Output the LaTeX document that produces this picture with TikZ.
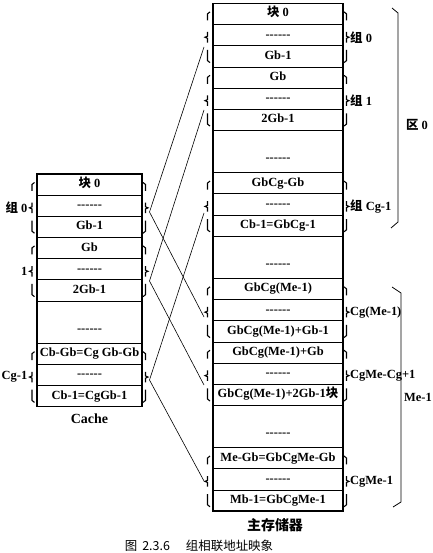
\documentclass[tikz,border=0pt]{standalone}
\usepackage{fontspec}
\setmainfont{Liberation Serif}
\newfontfamily\cjk{Noto Sans CJK SC}
\usepackage{tikz}

\newcommand{\zh}[1]{{\cjk #1}}
\newcommand{\dsh}{-\kern0pt-\kern0pt-\kern0pt-\kern0pt-\kern0pt-}
\newcommand{\lowdsh}{\raisebox{-7bp}{\dsh}}
\newcommand{\rowh}{21.15}

\begin{document}
\begin{tikzpicture}[
            x=1bp, y=-1bp,
            cell/.style={draw, line width=0.6pt, inner sep=0pt, outer sep=0pt,
                text height=9bp, text depth=3bp, font=\fontsize{12.5}{14}\selectfont\bfseries},
            piece/.style={line width=1.1pt},
            note/.style={inner sep=1pt, font=\fontsize{12.5}{14}\selectfont\bfseries}
        ]
            \useasboundingbox (0,0) rectangle (433,553);

            % cache
            \foreach \c/\h/\t [count=\i] in {0.5/1/\zh{块} 0, 1.5/1/\dsh, 2.5/1/Gb-1, 3.5/1/Gb, 4.5/1/\dsh, 5.5/1/2Gb-1, 7/2/\lowdsh, 8.5/1/Cb-Gb=Cg Gb-Gb, 9.5/1/\dsh, 10.5/1/Cb-1=CgGb-1} {
                \node[cell, minimum width=105bp, minimum height={\h*\rowh*1bp}] (c\i) at (89.5,{174+\c*\rowh}) {\t};
            }
            \draw [line width=1.6pt] (c1.north west) rectangle (c10.south east);

            % main memory
            \foreach \c/\h/\t [count=\i] in {0.5/1/\zh{块} 0, 1.5/1/\dsh, 2.5/1/Gb-1, 3.5/1/Gb, 4.5/1/\dsh, 5.5/1/2Gb-1, 7/2/\lowdsh, 8.5/1/GbCg-Gb, 9.5/1/\dsh, 10.5/1/Cb-1=GbCg-1, 12/2/\lowdsh, 13.5/1/GbCg(Me-1), 14.5/1/\dsh, 15.5/1/GbCg(Me-1)+Gb-1, 16.5/1/GbCg(Me-1)+Gb, 17.5/1/\dsh, 18.5/1/GbCg(Me-1)+2Gb-1\zh{块}, 20/2/\lowdsh, 21.5/1/Me-Gb=GbCgMe-Gb, 22.5/1/\dsh, 23.5/1/Mb-1=GbCgMe-1} {
                \node[cell, minimum width=130bp, minimum height={\h*\rowh*1bp}] (m\i) at (278,{3.4+\c*\rowh}) {\t};
            }
            \draw [line width=1.6pt] (m1.north west) rectangle (m21.south east);

            % split braces beside the groups
            \foreach \T/\x/\s in {174/32/-1, 237.45/32/-1, 343.2/32/-1, 174/145.5/1, 237.45/145.5/1, 343.2/145.5/1,
                    3.4/207.5/-1, 66.85/207.5/-1, 172.6/207.5/-1, 278.35/207.5/-1, 341.8/207.5/-1, 447.55/207.5/-1,
                    3.4/346.5/1, 66.85/346.5/1, 172.6/346.5/1, 278.35/346.5/1, 341.8/346.5/1, 447.55/346.5/1} {
                \draw [piece] ({\x-(\s)*2.5},{\T+0.4*\rowh}) -- (\x,{\T+0.4*\rowh+2}) -- (\x,{\T+0.8*\rowh});
                \draw [piece] (\x,{\T+1.35*\rowh}) -- (\x,{\T+1.55*\rowh}) -- ({\x+(\s)*2.5},{\T+1.6*\rowh})
                    -- (\x,{\T+1.65*\rowh}) -- (\x,{\T+1.85*\rowh});
                \draw [piece] (\x,{\T+2.2*\rowh}) -- (\x,{\T+2.8*\rowh-2}) -- ({\x-(\s)*2.5},{\T+2.8*\rowh});
            }

            % group labels and line ends
            \foreach \T/\y/\t [count=\i] in {174/212/\zh{组} 0, 237.45/281/1, 343.2/380/Cg-1} {
                \node[note, anchor=east] (cl\i) at (28.5,{\T+1.6*\rowh}) {\t};
                \coordinate (cg\i) at (149.5,\y);
            }
            \foreach \T/\y/\t [count=\i] in {3.4/47/\zh{组} 0, 66.85/110/\zh{组} 1, 172.6/213/\zh{组} Cg-1, 278.35/317/Cg(Me-1), 341.8/385/CgMe-Cg+1, 447.55/481/CgMe-1} {
                \node[note, anchor=west] (ml\i) at (349,{\T+1.6*\rowh}) {\t};
                \coordinate (mg\i) at (204,\y);
            }

            \foreach \a/\b in {1/1, 1/4, 2/2, 2/5, 3/3, 3/6} {
                \draw [line width=0.6pt] (cg\a) -- (mg\b);
            }

            % sections
            \draw [line width=0.8pt] (392,8) -- (398,13) -- (398,222) -- (391,228);
            \node[note] (z0) at (417,125) {\zh{区} 0};
            \draw [line width=0.8pt] (392,287) -- (401,293) -- (401,502) -- (393,507);
            \node[note] (z1) at (418,397) {Me-1};

            \node[font=\fontsize{14}{16}\selectfont\bfseries] (cache) at (89.5,419) {Cache};
            \node[font=\cjk\fontsize{14}{16}\selectfont\bfseries] (mem) at (275,525) {主存储器};
            \node[font=\cjk\fontsize{12.5}{14}\selectfont] (cap) at (199,546) {图\hspace{5bp}2.3.6\hspace{16bp}组相联地址映象};
        \end{tikzpicture}
\end{document}
